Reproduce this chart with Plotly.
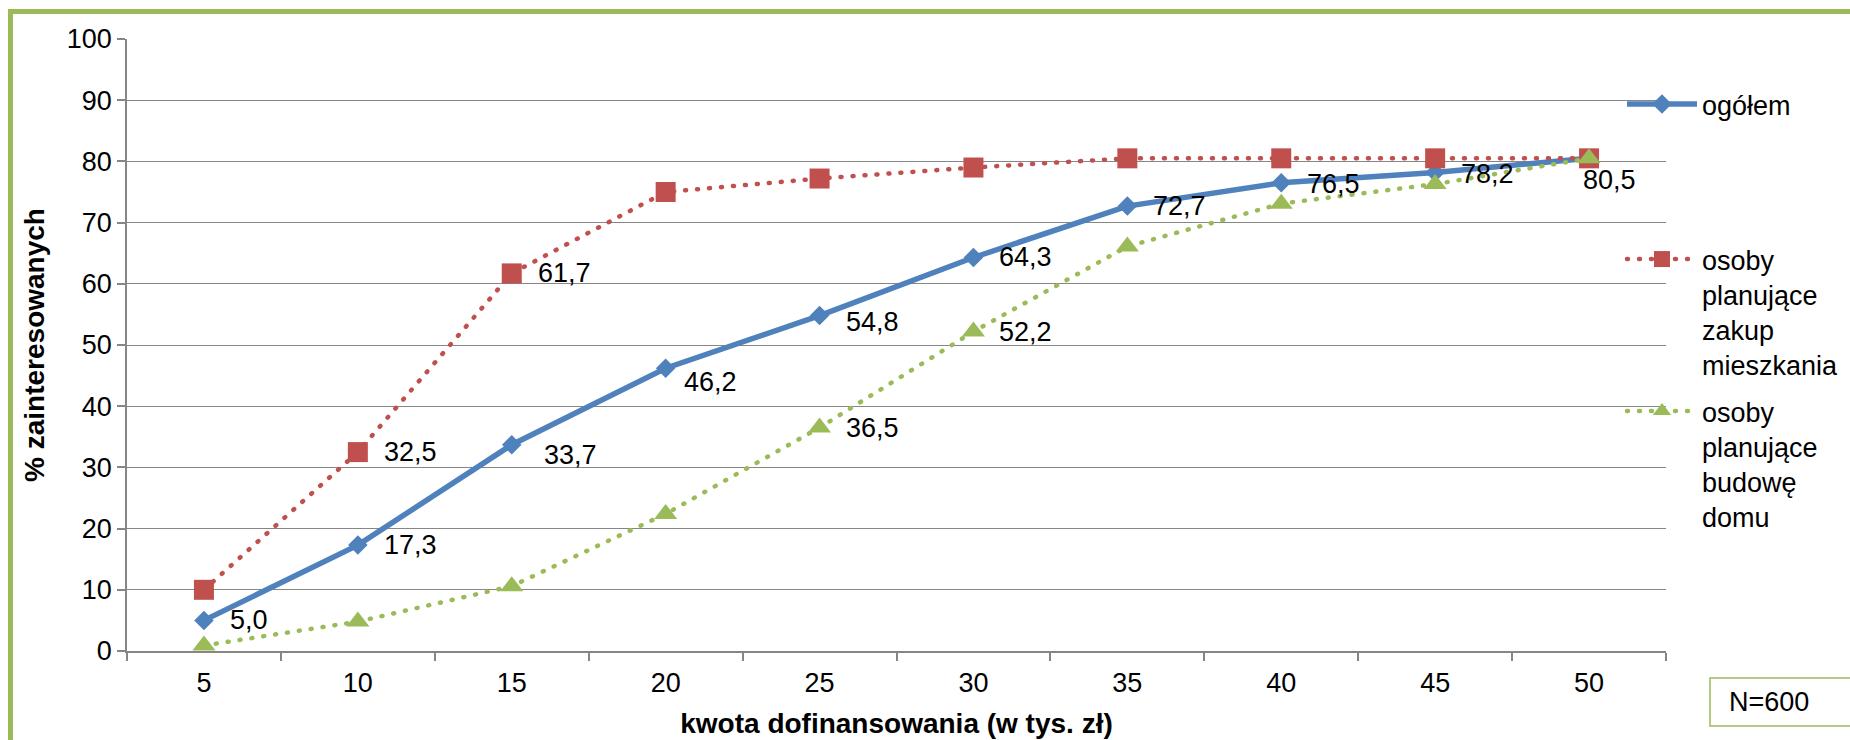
import plotly.graph_objects as go

# Kwota dofinansowania (tys. zł) and share of interested respondents (%)
kwota = ["5", "10", "15", "20", "25", "30", "35", "40", "45", "50"]
ogolem = [5.0, 17.3, 33.7, 46.2, 54.8, 64.3, 72.7, 76.5, 78.2, 80.5]
mieszkanie = [10.0, 32.5, 61.7, 75.0, 77.2, 79.0, 80.5, 80.5, 80.5, 80.5]
dom = [0.9, 4.8, 10.6, 22.4, 36.5, 52.2, 66.1, 73.1, 76.3, 80.5]

nazwy = [
    "ogółem",
    "osoby<br>planujące<br>zakup<br>mieszkania",
    "osoby<br>planujące<br>budowę<br>domu",
]

# which points get a value label
ogolem_etykiety = [True] * 10
mieszkanie_etykiety = [False, True, True, False, False, False, False, False, False, False]
dom_etykiety = [False, False, False, False, True, True, False, False, False, False]

# per-label nudges (px): (xshift, yshift)
ogolem_przes = [(24, 0), (24, 0), (30, -10), (16, -14), (24, -6),
                (24, 0), (24, 0), (24, -1), (24, -2), (-8, -22)]

NIEBIESKI = "#4F81BD"
CZERWONY = "#C0504D"
ZIELONY = "#9BBB59"
SIATKA = "#868686"
FONT = "Liberation Sans, Arial, sans-serif"
ROZMIAR = 27
ROZMIAR_TYTUL = 28

W, H = 1850, 740
ML, MR, MT, MB = 127, 184, 39, 89
PW, PH = W - ML - MR, H - MT - MB


def px_x(px):
    return (px - ML) / PW


def px_y(py):
    return (H - MB - py) / PH


def fmt(v):
    return f"{v:.1f}".replace(".", ",")


fig = go.Figure()

fig.add_trace(go.Scatter(
    x=kwota, y=ogolem, name=nazwy[0], mode="lines+markers",
    line=dict(color=NIEBIESKI, width=5.5),
    marker=dict(symbol="diamond", size=15, color=NIEBIESKI),
    cliponaxis=False, legend="legend",
))
fig.add_trace(go.Scatter(
    x=kwota, y=mieszkanie, name=nazwy[1], mode="lines+markers",
    line=dict(color=CZERWONY, width=4.5, dash="1px,11px"),
    marker=dict(symbol="square", size=20, color=CZERWONY),
    cliponaxis=False, legend="legend2",
))
fig.add_trace(go.Scatter(
    x=kwota, y=dom, name=nazwy[2], mode="lines+markers",
    line=dict(color=ZIELONY, width=4.5, dash="1px,11px"),
    marker=dict(symbol="triangle-up", size=20, color=ZIELONY),
    cliponaxis=False, legend="legend3",
))

# value labels: x is the category position (index) on the category axis
annotations = []
for i, v in enumerate(ogolem):
    if ogolem_etykiety[i]:
        dx, dy = ogolem_przes[i]
        annotations.append(dict(x=i, y=v, text=fmt(v), xanchor="left", yanchor="middle",
                                xshift=dx, yshift=dy, showarrow=False))
for serie, flagi in ((mieszkanie, mieszkanie_etykiety), (dom, dom_etykiety)):
    for i, v in enumerate(serie):
        if flagi[i]:
            annotations.append(dict(x=i, y=v, text=fmt(v), xanchor="left", yanchor="middle",
                                    xshift=24, yshift=0, showarrow=False))

annotations.append(dict(
    xref="paper", yref="paper", x=px_x(1727), y=px_y(702), text="N=600",
    xanchor="left", yanchor="middle", showarrow=False,
))

shapes = [
    # outer frame
    dict(type="rect", xref="paper", yref="paper",
         x0=px_x(10.5), x1=px_x(1880), y0=px_y(11.5), y1=px_y(770),
         line=dict(color=ZIELONY, width=5), layer="below"),
    # sample size box
    dict(type="rect", xref="paper", yref="paper",
         x0=px_x(1710), x1=px_x(1880), y0=px_y(678), y1=px_y(726),
         line=dict(color=ZIELONY, width=1.5)),
]

legend_common = dict(
    bgcolor="rgba(0,0,0,0)", borderwidth=0, font=dict(family=FONT, size=ROZMIAR, color="black"),
    itemwidth=70, valign="top", xanchor="left", yanchor="top", tracegroupgap=0,
)

fig.update_layout(
    width=W, height=H, showlegend=True,
    margin=dict(l=ML, r=MR, t=MT, b=MB, autoexpand=False),
    paper_bgcolor="white", plot_bgcolor="white",
    font=dict(family=FONT, size=ROZMIAR, color="black"),
    annotations=annotations, shapes=shapes,
    legend=dict(x=px_x(1622), y=px_y(80), **legend_common),
    legend2=dict(x=px_x(1622), y=px_y(235), **legend_common),
    legend3=dict(x=px_x(1622), y=px_y(387), **legend_common),
    xaxis=dict(
        type="category", range=[-0.5, 9.5], tickson="boundaries",
        ticks="outside", ticklen=8, tickcolor=SIATKA, tickwidth=1.5,
        showline=True, linecolor=SIATKA, linewidth=1.5, showgrid=False,
        tickfont=dict(size=ROZMIAR, color="black"), ticklabelstandoff=7,
        title=dict(text="kwota dofinansowania (w tys. zł)",
                   font=dict(size=ROZMIAR_TYTUL, weight="bold", color="black"), standoff=16),
    ),
    yaxis=dict(
        range=[0, 100], dtick=10, tick0=0,
        ticks="outside", ticklen=8, tickcolor=SIATKA, tickwidth=1.5,
        showline=True, linecolor=SIATKA, linewidth=1.5,
        showgrid=True, gridcolor=SIATKA, gridwidth=1.2, zeroline=False,
        tickfont=dict(size=ROZMIAR, color="black"),
        title=dict(text="% zainteresowanych",
                   font=dict(size=ROZMIAR_TYTUL, weight="bold", color="black"), standoff=14),
    ),
)

# round caps turn the short dashes into dots
round_dots = """
var gd = document.getElementById('{plot_id}');
function roundDots() {
  gd.querySelectorAll('path.js-line').forEach(function (p) {
    var d = p.style.strokeDasharray;
    if (d && d !== 'none' && d !== '') { p.style.strokeLinecap = 'round'; }
  });
}
roundDots();
gd.on('plotly_afterplot', roundDots);
"""

fig.write_html("out.html", post_script=round_dots)
